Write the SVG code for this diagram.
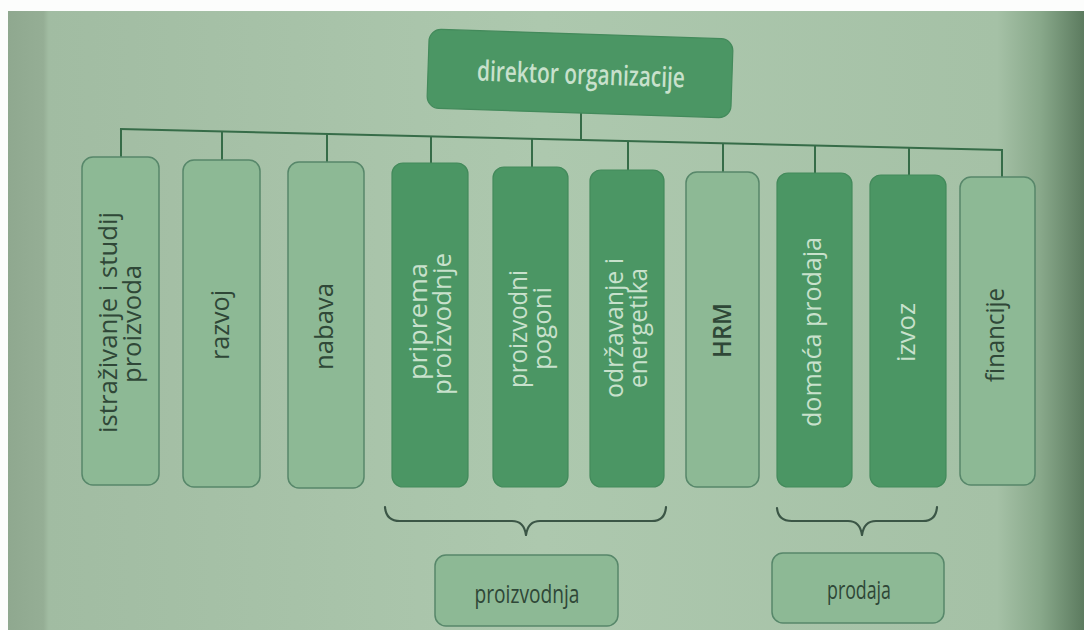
<svg xmlns="http://www.w3.org/2000/svg" width="1084" height="630" viewBox="0 0 1084 630">
<defs>
<linearGradient id="bg" x1="0" y1="0" x2="1084" y2="0" gradientUnits="userSpaceOnUse">
<stop offset="0" stop-color="#8ea78e"/>
<stop offset="0.04" stop-color="#95ae95"/>
<stop offset="0.045" stop-color="#a1bca2"/>
<stop offset="0.5" stop-color="#adc8ae"/>
<stop offset="0.92" stop-color="#a5c1a6"/>
<stop offset="0.96" stop-color="#88a88a"/>
<stop offset="1" stop-color="#5c7b5f"/>
</linearGradient>
<style>
.light{fill:#8db995;stroke:#57876a;stroke-width:1.5}
.dark{fill:#4b9664;stroke:#438a5b;stroke-width:1.2}
.tl{font-family:"Open Sans","Noto Sans",sans-serif;font-size:25px;fill:#2f4737;text-anchor:middle}
.td{font-family:"Open Sans","Noto Sans",sans-serif;font-size:25px;fill:#c8e1cc;text-anchor:middle}
.conn{fill:none;stroke:#366c48;stroke-width:2}
.brace{fill:none;stroke:#3b5646;stroke-width:2.2;stroke-linecap:round;stroke-linejoin:round}
</style>
</defs>
<rect x="0" y="0" width="1084" height="630" fill="url(#bg)"/>
<rect x="0" y="0" width="1084" height="11" fill="#fcfdfc"/>
<rect x="0" y="11" width="8" height="619" fill="#fcfdfc"/>

<g id="connectors">
<line class="conn" x1="581" y1="112" x2="581" y2="140"/>
<line class="conn" x1="120" y1="129" x2="1003" y2="150"/>
<line class="conn" x1="121" y1="129" x2="121" y2="158"/>
<line class="conn" x1="222" y1="131.4" x2="222" y2="161"/>
<line class="conn" x1="327" y1="133.9" x2="327" y2="163"/>
<line class="conn" x1="431" y1="136.4" x2="431" y2="164"/>
<line class="conn" x1="532" y1="138.8" x2="532" y2="168"/>
<line class="conn" x1="628" y1="141.1" x2="628" y2="171"/>
<line class="conn" x1="723" y1="143.4" x2="723" y2="173"/>
<line class="conn" x1="815" y1="145.5" x2="815" y2="174"/>
<line class="conn" x1="909" y1="147.8" x2="909" y2="176"/>
<line class="conn" x1="1002" y1="150" x2="1002" y2="178"/>
</g>

<g id="root" transform="rotate(1.9 580 73.5)">
<rect class="dark" x="428" y="34" width="304" height="79" rx="12"/>
<text class="td" x="581" y="84" textLength="208" lengthAdjust="spacingAndGlyphs" style="font-size:28px;font-weight:600">direktor organizacije</text>
</g>

<g id="istrazivanje">
<rect class="light" x="82" y="157" width="77" height="328" rx="11"/>
<text class="tl" transform="translate(117 322.5) rotate(-90)" textLength="221" lengthAdjust="spacingAndGlyphs">istraživanje i studij</text>
<text class="tl" transform="translate(141 324) rotate(-90)" textLength="118" lengthAdjust="spacingAndGlyphs">proizvoda</text>
</g>
<g id="razvoj">
<rect class="light" x="183" y="160" width="77" height="327" rx="11"/>
<text class="tl" transform="translate(228.5 325) rotate(-90)" textLength="70" lengthAdjust="spacingAndGlyphs">razvoj</text>
</g>
<g id="nabava">
<rect class="light" x="288" y="162" width="76" height="326" rx="11"/>
<text class="tl" transform="translate(333 326.5) rotate(-90)" textLength="87" lengthAdjust="spacingAndGlyphs">nabava</text>
</g>
<g id="priprema">
<rect class="dark" x="392" y="163" width="76" height="324" rx="11"/>
<text class="td" transform="translate(427 321.5) rotate(-90)" textLength="117" lengthAdjust="spacingAndGlyphs">priprema</text>
<text class="td" transform="translate(451 324) rotate(-90)" textLength="142" lengthAdjust="spacingAndGlyphs">proizvodnje</text>
</g>
<g id="pogoni">
<rect class="dark" x="493" y="167" width="75" height="320" rx="11"/>
<text class="td" transform="translate(527 329) rotate(-90)" textLength="118" lengthAdjust="spacingAndGlyphs">proizvodni</text>
<text class="td" transform="translate(551 328.5) rotate(-90)" textLength="83" lengthAdjust="spacingAndGlyphs">pogoni</text>
</g>
<g id="odrzavanje">
<rect class="dark" x="590" y="170" width="74" height="317" rx="11"/>
<text class="td" transform="translate(623 328) rotate(-90)" textLength="140" lengthAdjust="spacingAndGlyphs">održavanje i</text>
<text class="td" transform="translate(647 328) rotate(-90)" textLength="120" lengthAdjust="spacingAndGlyphs">energetika</text>
</g>
<g id="hrm">
<rect class="light" x="686" y="172" width="73" height="315" rx="11"/>
<text class="tl" transform="translate(731 330.5) rotate(-90)" textLength="55" lengthAdjust="spacingAndGlyphs" style="font-weight:600">HRM</text>
</g>
<g id="domaca">
<rect class="dark" x="777" y="173" width="75" height="314" rx="11"/>
<text class="td" transform="translate(821 332) rotate(-90)" textLength="190" lengthAdjust="spacingAndGlyphs">domaća prodaja</text>
</g>
<g id="izvoz">
<rect class="dark" x="870" y="175" width="76" height="312" rx="11"/>
<text class="td" transform="translate(915 332.5) rotate(-90)" textLength="59" lengthAdjust="spacingAndGlyphs">izvoz</text>
</g>
<g id="financije">
<rect class="light" x="960" y="177" width="75" height="308" rx="11"/>
<text class="tl" transform="translate(1004 335) rotate(-90)" textLength="94" lengthAdjust="spacingAndGlyphs">financije</text>
</g>

<g id="braces">
<path class="brace" d="M385,507 Q386,521 400,521 L512,521 Q524,521 526,535 Q528,521 540,521 L652,521 Q665,521 666,507"/>
<path class="brace" d="M777,508 Q778,521 792,521 L848,521 Q860,521 862,535 Q864,521 876,521 L923,521 Q936,521 937,507"/>
</g>

<g id="proizvodnja">
<rect class="light" x="435" y="555" width="183" height="71" rx="11"/>
<text class="tl" x="527" y="603" textLength="105" lengthAdjust="spacingAndGlyphs" style="font-size:26px">proizvodnja</text>
</g>
<g id="prodaja">
<rect class="light" x="772" y="553" width="172" height="70" rx="11"/>
<text class="tl" x="859" y="599" textLength="64" lengthAdjust="spacingAndGlyphs" style="font-size:26px">prodaja</text>
</g>
</svg>
